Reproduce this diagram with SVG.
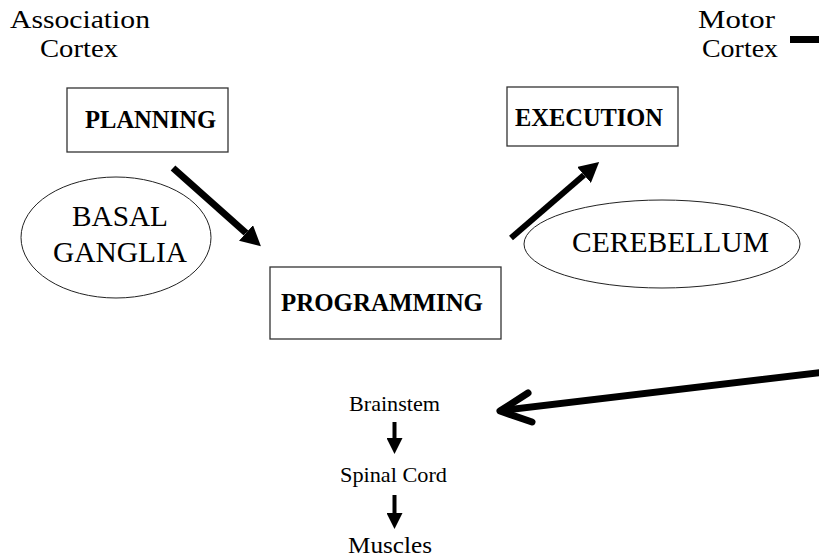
<svg xmlns="http://www.w3.org/2000/svg" width="819" height="558" viewBox="0 0 819 558">
<defs>
<style>
.lbl{font-family:"Liberation Serif","Times New Roman",serif;fill:#000;text-anchor:middle}
.big{font-size:29px}
.head{font-size:26px}
.bold{font-size:25px;font-weight:bold}
.small{font-size:22px}
.box{fill:#fff;stroke:#333;stroke-width:1.3}
.ell{fill:none;stroke:#222;stroke-width:1}
.thick{stroke:#000;fill:none}
</style>
<marker id="head" markerUnits="userSpaceOnUse" viewBox="0 0 20 21" refX="0" refY="10.5" markerWidth="20" markerHeight="21" orient="auto">
<path d="M0,0 L20,10.5 L0,21 Z" fill="#000"/>
</marker>
<marker id="shead" markerUnits="userSpaceOnUse" viewBox="0 0 16 16" refX="0" refY="8" markerWidth="16" markerHeight="16" orient="auto">
<path d="M0,0 L16,8 L0,16 Z" fill="#000"/>
</marker>
</defs>
<rect width="819" height="558" fill="#fff"/>

<g id="assoc-cortex">
<text class="lbl head" x="80" y="28" textLength="140" lengthAdjust="spacingAndGlyphs">Association</text>
<text class="lbl head" x="79" y="57" textLength="78" lengthAdjust="spacingAndGlyphs">Cortex</text>
</g>
<g id="motor-cortex">
<text class="lbl head" x="736.5" y="28" textLength="77" lengthAdjust="spacingAndGlyphs">Motor</text>
<text class="lbl head" x="740" y="57" textLength="76" lengthAdjust="spacingAndGlyphs">Cortex</text>
<rect x="790" y="36" width="29" height="7" fill="#000"/>
</g>
<g id="planning">
<rect class="box" x="67" y="88" width="161" height="64"/>
<text class="lbl bold" x="150.5" y="128" textLength="131" lengthAdjust="spacingAndGlyphs">PLANNING</text>
</g>
<g id="execution">
<rect class="box" x="507" y="87" width="171" height="59"/>
<text class="lbl bold" x="589" y="126" textLength="148" lengthAdjust="spacingAndGlyphs">EXECUTION</text>
</g>
<g id="programming">
<rect class="box" x="270" y="267" width="231" height="72"/>
<text class="lbl bold" x="382" y="311" textLength="202" lengthAdjust="spacingAndGlyphs">PROGRAMMING</text>
</g>
<g id="basal-ganglia">
<ellipse class="ell" cx="116" cy="237.5" rx="95" ry="60.5"/>
<text class="lbl big" x="120" y="226" textLength="96" lengthAdjust="spacingAndGlyphs">BASAL</text>
<text class="lbl big" x="120" y="262" textLength="134" lengthAdjust="spacingAndGlyphs">GANGLIA</text>
</g>
<g id="cerebellum">
<ellipse class="ell" cx="662" cy="244" rx="138" ry="44"/>
<text class="lbl big" x="670.5" y="252" textLength="197" lengthAdjust="spacingAndGlyphs">CEREBELLUM</text>
</g>
<g id="brainstem">
<text class="lbl small" x="394.5" y="411" textLength="91" lengthAdjust="spacingAndGlyphs">Brainstem</text>
</g>
<g id="spinal-cord">
<text class="lbl small" x="393.5" y="482" textLength="107" lengthAdjust="spacingAndGlyphs">Spinal Cord</text>
</g>
<g id="muscles">
<text class="lbl small" x="390" y="553" textLength="84" lengthAdjust="spacingAndGlyphs" style="font-size:23px">Muscles</text>
</g>

<g id="connectors">
<line class="thick" x1="173" y1="168" x2="246" y2="233" stroke-width="7" marker-end="url(#head)"/>
<line class="thick" x1="511" y1="238" x2="584" y2="175" stroke-width="6" marker-end="url(#head)"/>
<line class="thick" x1="825" y1="372" x2="502" y2="410.5" stroke-width="7" stroke-linecap="round"/>
<polyline class="thick" points="528,393 500,411 532,422" stroke-width="7" stroke-linecap="round" stroke-linejoin="round"/>
<line class="thick" x1="394.5" y1="422" x2="394.5" y2="438" stroke-width="4" marker-end="url(#shead)"/>
<line class="thick" x1="394.5" y1="495" x2="394.5" y2="513" stroke-width="4" marker-end="url(#shead)"/>
</g>
</svg>
